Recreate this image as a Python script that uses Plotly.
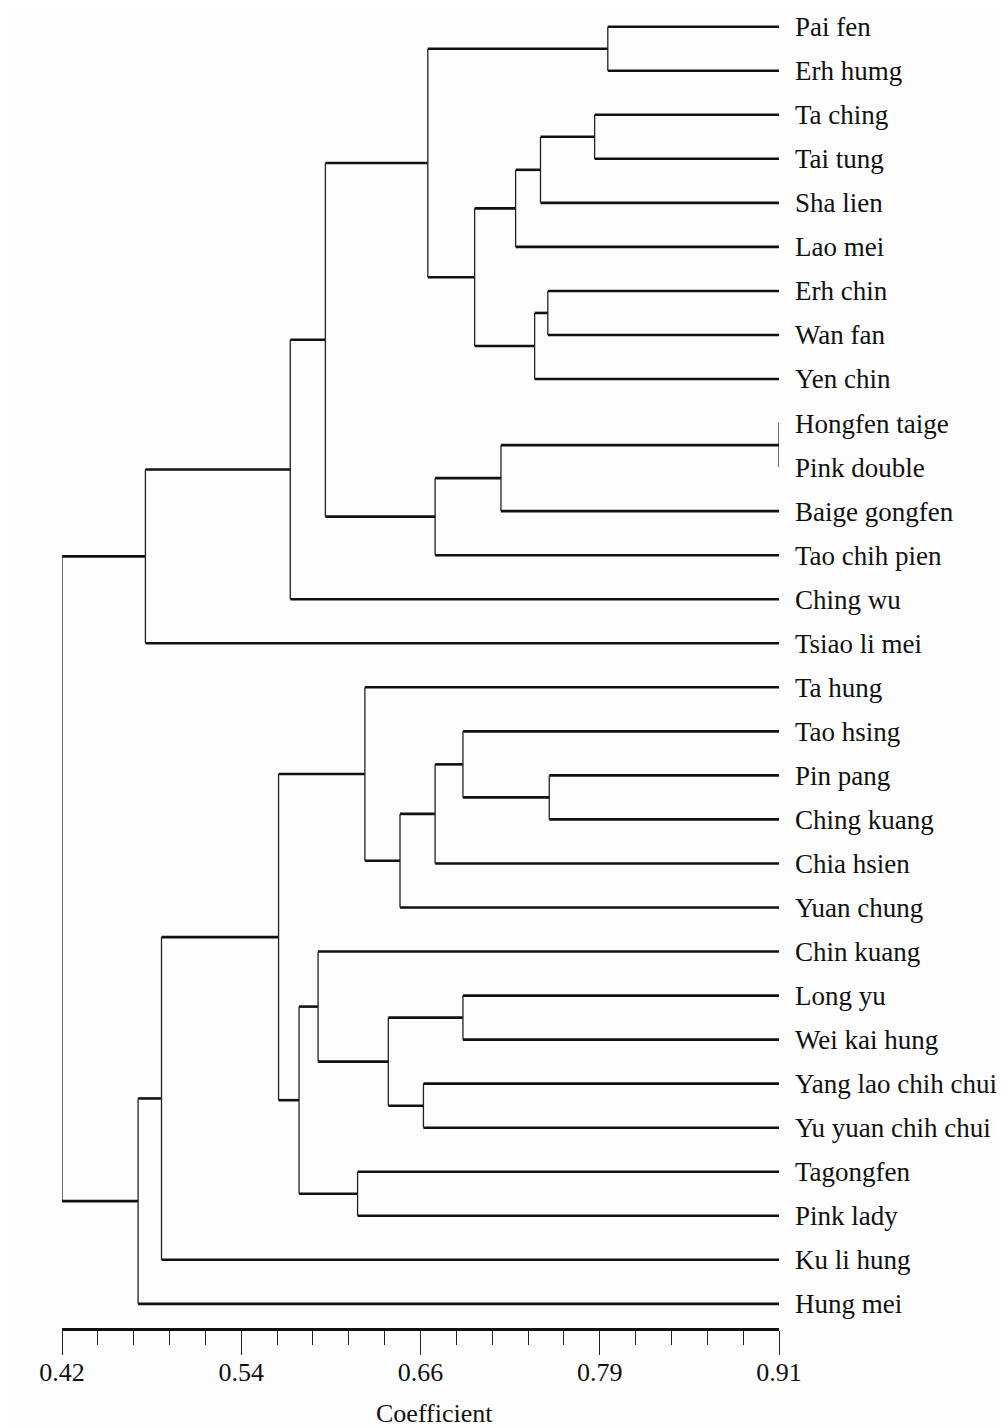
import plotly.graph_objects as go

# ---- data ----
leaves = [
    "Pai fen", "Erh humg", "Ta ching", "Tai tung", "Sha lien", "Lao mei",
    "Erh chin", "Wan fan", "Yen chin", "Hongfen taige", "Pink double",
    "Baige gongfen", "Tao chih pien", "Ching wu", "Tsiao li mei",
    "Ta hung", "Tao hsing", "Pin pang", "Ching kuang", "Chia hsien",
    "Yuan chung", "Chin kuang", "Long yu", "Wei kai hung",
    "Yang lao chih chui", "Yu yuan chih chui", "Tagongfen", "Pink lady",
    "Ku li hung", "Hung mei",
]
# merges: node ids 0..29 are leaves, 30+ are merges in order
merge_left = [0, 2, 31, 32, 6, 34, 33, 30, 9, 38, 39, 37, 41, 42,
              17, 16, 45, 46, 15, 22, 24, 49, 21, 26, 52, 48, 55, 56, 43]
merge_right = [1, 3, 4, 5, 7, 8, 35, 36, 10, 11, 12, 40, 13, 14,
               18, 44, 19, 20, 47, 23, 25, 50, 51, 27, 53, 54, 28, 29, 57]
merge_coef = [0.793, 0.784, 0.747, 0.730, 0.752, 0.743, 0.702, 0.670,
              0.910, 0.720, 0.675, 0.600, 0.576, 0.477,
              0.753, 0.694, 0.675, 0.651, 0.627, 0.694, 0.667, 0.643,
              0.595, 0.622, 0.582, 0.568, 0.488, 0.472, 0.420]
leaf_coef = 0.91

tick_vals = [0.42, 0.5425, 0.665, 0.7875, 0.91]
tick_text = ["0.42", "0.54", "0.66", "0.79", "0.91"]
axis_min, axis_max = 0.42, 0.91
minor_step = 0.0245

# ---- build dendrogram segments ----
n = len(leaves)
node_x = [leaf_coef] * n
node_y = list(range(n))
hx, hy, vx, vy = [], [], [], []
for a, b, c in zip(merge_left, merge_right, merge_coef):
    for ch in (a, b):
        hx += [node_x[ch], c, None]
        hy += [node_y[ch], node_y[ch], None]
    vx += [c, c, None]
    vy += [node_y[a], node_y[b], None]
    node_x.append(c)
    node_y.append((node_y[a] + node_y[b]) / 2)

fig = go.Figure()
fig.add_trace(go.Scatter(x=hx, y=hy, mode="lines", cliponaxis=False,
                         line=dict(color="#111111", width=2.6),
                         hoverinfo="skip", showlegend=False))
fig.add_trace(go.Scatter(x=vx, y=vy, mode="lines", cliponaxis=False,
                         line=dict(color="#222222", width=1.3),
                         hoverinfo="skip", showlegend=False))

serif = "Liberation Serif, Times New Roman, serif"
# page body has an 8px margin, so figure pixel coords = screen coords - 8
W, H = 1000, 1420
left, right_px, top, bottom_px = 54, 771, 0, 1320
row0, scale = 18.7, 44.04
y_top = -(row0 - top) / scale
y_bot = (n - 1) + (bottom_px - (row0 + scale * (n - 1))) / scale

fig.update_layout(
    width=W, height=H,
    margin=dict(l=left, r=W - right_px, t=top, b=H - bottom_px, pad=0),
    paper_bgcolor="#fdfdfd", plot_bgcolor="#fdfdfd",
    font=dict(family=serif, color="#111111"),
    xaxis=dict(
        range=[axis_min, axis_max], tickmode="array", tickvals=tick_vals,
        ticktext=tick_text, ticks="outside", ticklen=24, tickwidth=1.2,
        tickcolor="#222222", showline=True, linewidth=3, linecolor="#111111",
        showgrid=False, zeroline=False, tickfont=dict(size=26, family=serif),
        ticklabelstandoff=-5,
        minor=dict(ticks="outside", ticklen=14, tickwidth=1.2,
                   tickcolor="#222222", tick0=axis_min, dtick=minor_step,
                   showgrid=False),
    ),
    yaxis=dict(
        range=[y_bot, y_top], side="right", tickmode="array",
        tickvals=list(range(n)), ticktext=leaves, ticks="",
        showline=False, showgrid=False, zeroline=False,
        tickfont=dict(size=27, family=serif), ticklabelstandoff=15,
    ),
    annotations=[dict(text="Coefficient", xref="paper", yref="paper",
                      x=(426 - left) / (right_px - left),
                      y=(bottom_px - 1405) / (bottom_px - top),
                      xanchor="center", yanchor="middle", showarrow=False,
                      font=dict(size=26, family=serif, color="#111111"))],
)

fig.write_html("out.html")
